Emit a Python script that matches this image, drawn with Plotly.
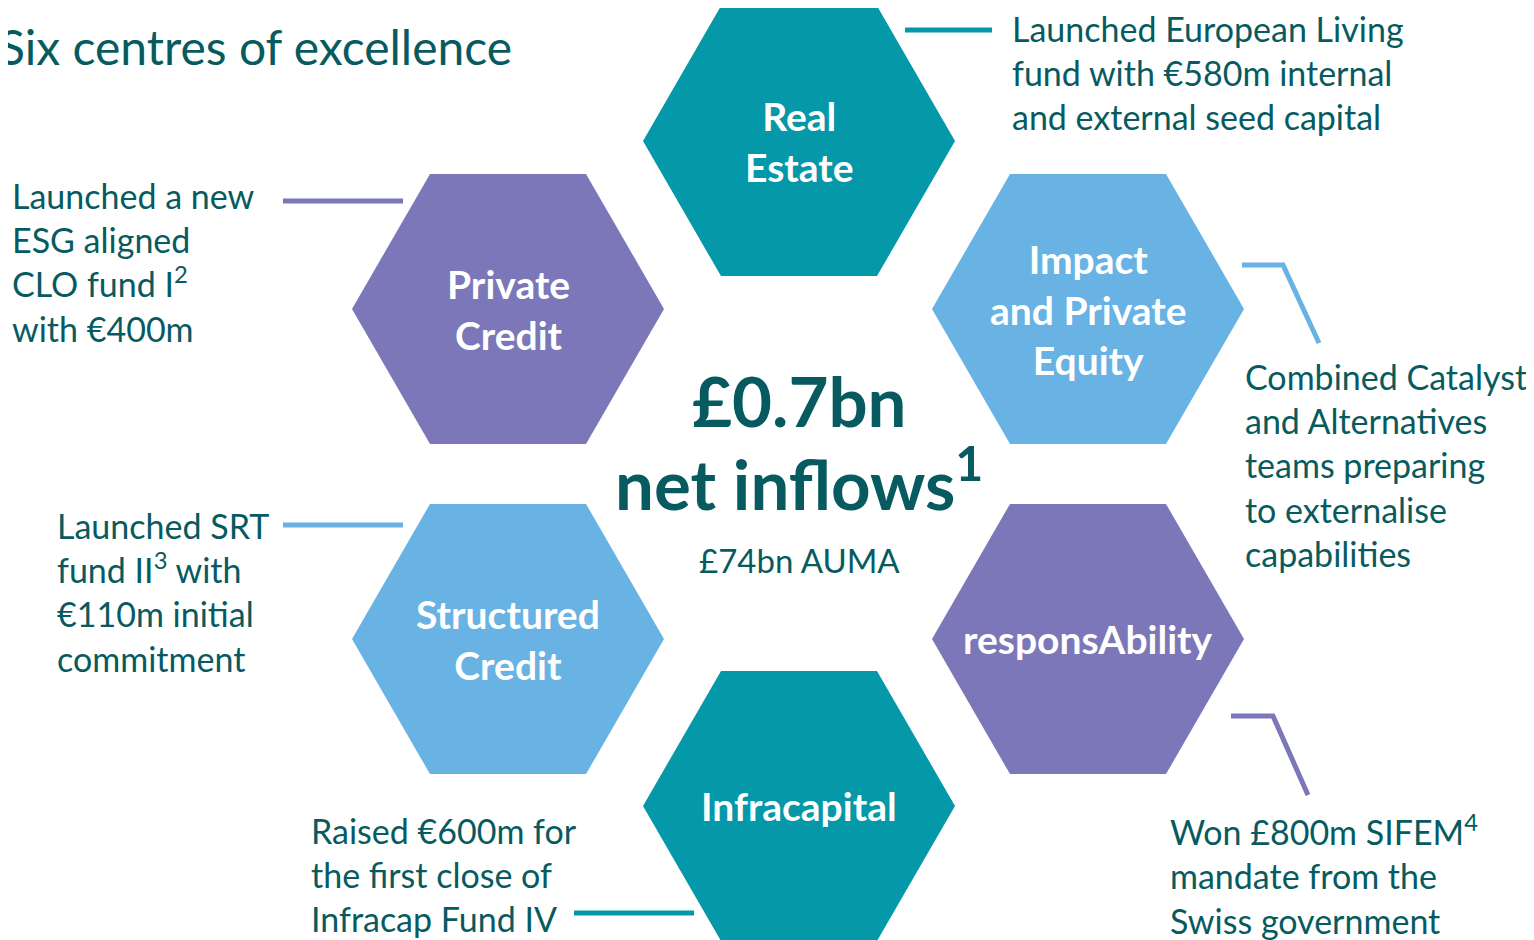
import math
import plotly.graph_objects as go

# Segments (clockwise from top)
segments = ["Real<br>Estate", "Impact<br>and Private<br>Equity", "responsAbility",
            "Infracapital", "Structured<br>Credit", "Private<br>Credit"]
descriptions = [
    "Launched European Living<br>fund with €580m internal<br>and external seed capital",
    "Combined Catalyst<br>and Alternatives<br>teams preparing<br>to externalise<br>capabilities",
    "Won £800m SIFEM<sup>4</sup><br>mandate from the<br>Swiss government",
    "Raised €600m for<br>the first close of<br>Infracap Fund IV",
    "Launched SRT<br>fund II<sup>3</sup> with<br>€110m initial<br>commitment",
    "Launched a new<br>ESG aligned<br>CLO fund I<sup>2</sup><br>with €400m",
]
title = "Six centres of excellence"
headline = "£0.7bn"
headline_sub = "net inflows<sup>1</sup>"
auma = "£74bn AUMA"

TEAL = "#0498A8"
PURPLE = "#7C77B8"
BLUE = "#68B3E4"
TEXT = "#075B60"
seg_colors = [TEAL, BLUE, PURPLE, TEAL, BLUE, PURPLE]

# layout (pixel space of the page)
hex_r = 156
hex_centers = [(799, 141), (1088, 309), (1088, 639), (799, 806), (508, 639), (508, 309)]
desc_pos = [(1010, 72), (1243, 465), (1168, 874), (309, 874), (55, 592), (10, 262)]
connectors = [
    ([905, 992], [30, 30]),
    ([1242, 1283, 1319], [265, 265, 343]),
    ([1231, 1273, 1308], [716, 716, 795]),
    ([574, 694], [913, 913]),
    ([283, 403], [525, 525]),
    ([283, 403], [201, 201]),
]

FONT = "Lato"
OFF = 8  # page body margin

fig = go.Figure()

for (cx, cy), color in zip(hex_centers, seg_colors):
    xs = [cx + hex_r * math.cos(math.radians(a)) for a in range(0, 361, 60)]
    ys = [cy + hex_r * math.sin(math.radians(a)) for a in range(0, 361, 60)]
    fig.add_trace(go.Scatter(x=xs, y=ys, mode="lines", fill="toself",
                             fillcolor=color, line=dict(width=0, color=color),
                             hoverinfo="skip", showlegend=False))

for (lx, ly), color in zip(connectors, seg_colors):
    fig.add_trace(go.Scatter(x=lx, y=ly, mode="lines",
                             line=dict(color=color, width=5),
                             hoverinfo="skip", showlegend=False))

for name, (cx, cy) in zip(segments, hex_centers):
    fig.add_annotation(x=cx, y=cy, text=name, showarrow=False,
                       font=dict(family=FONT, size=39, color="white", weight="bold"),
                       align="center", xanchor="center", yanchor="middle")

for text, (x, y) in zip(descriptions, desc_pos):
    fig.add_annotation(x=x, y=y, text=text, showarrow=False,
                       font=dict(family=FONT, size=34, color=TEXT),
                       align="left", xanchor="left", yanchor="middle")

fig.add_annotation(x=OFF, y=46, xshift=-OFF - 3, text=title, showarrow=False,
                   font=dict(family=FONT, size=48, color=TEXT),
                   xanchor="left", yanchor="middle")
fig.add_annotation(x=799, y=400, text=headline, showarrow=False,
                   font=dict(family=FONT, size=69, color=TEXT, weight="bold"),
                   xanchor="center", yanchor="middle")
fig.add_annotation(x=799, y=479, text=headline_sub, showarrow=False,
                   font=dict(family=FONT, size=69, color=TEXT, weight="bold"),
                   xanchor="center", yanchor="middle")
fig.add_annotation(x=799, y=560, text=auma, showarrow=False,
                   font=dict(family=FONT, size=33, color=TEXT),
                   xanchor="center", yanchor="middle")

fig.update_layout(
    width=1534, height=940,
    margin=dict(l=0, r=0, t=0, b=0),
    paper_bgcolor="white", plot_bgcolor="white",
    xaxis=dict(range=[OFF, 1534 + OFF], visible=False, fixedrange=True),
    yaxis=dict(range=[940 + OFF, OFF], visible=False, fixedrange=True),
)

fig.write_html("out.html")
